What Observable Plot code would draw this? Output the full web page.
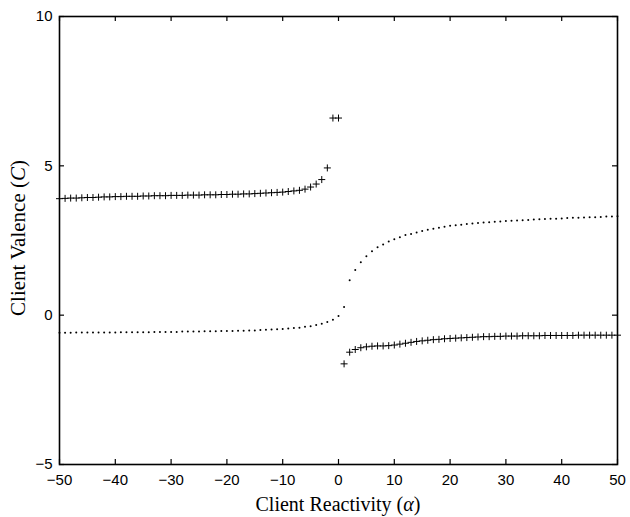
<!DOCTYPE html>
<html><head><meta charset="utf-8">
<script src="https://cdn.jsdelivr.net/npm/d3@7"></script>
<script src="https://cdn.jsdelivr.net/npm/@observablehq/plot@0.6"></script>
<style>body{margin:0;background:#fff} #chart svg{display:block}</style>
</head><body><div id="chart"></div>
<script>
const alpha = [-50,-49,-48,-47,-46,-45,-44,-43,-42,-41,-40,-39,-38,-37,-36,-35,-34,-33,-32,-31,-30,-29,-28,-27,-26,-25,-24,-23,-22,-21,-20,-19,-18,-17,-16,-15,-14,-13,-12,-11,-10,-9,-8,-7,-6,-5,-4,-3,-2,-1,0,1,2,3,4,5,6,7,8,9,10,11,12,13,14,15,16,17,18,19,20,21,22,23,24,25,26,27,28,29,30,31,32,33,34,35,36,37,38,39,40,41,42,43,44,45,46,47,48,49,50];
const dottedC = [
 -0.59,-0.59,-0.59,-0.58,-0.58,-0.58,-0.58,-0.58,-0.58,-0.58,
 -0.58,-0.57,-0.57,-0.57,-0.57,-0.57,-0.57,-0.56,-0.56,-0.56,
 -0.56,-0.56,-0.55,-0.55,-0.55,-0.55,-0.54,-0.54,-0.54,-0.53,
 -0.53,-0.53,-0.52,-0.52,-0.51,-0.51,-0.50,-0.49,-0.48,-0.47,
 -0.46,-0.45,-0.43,-0.42,-0.39,-0.37,-0.33,-0.29,-0.23,-0.15,
 -0.03,
 0.27,1.17,1.51,1.77,1.97,2.14,2.27,2.37,2.47,2.54,
 2.61,2.68,2.72,2.77,2.82,2.86,2.89,2.93,2.96,2.99,
 3.01,3.03,3.05,3.07,3.09,3.10,3.11,3.13,3.14,3.15,
 3.16,3.17,3.18,3.19,3.20,3.21,3.22,3.23,3.23,3.24,
 3.25,3.26,3.26,3.27,3.28,3.28,3.29,3.30,3.30,3.31];
const plusC = [
 3.90,3.91,3.92,3.92,3.93,3.94,3.94,3.95,3.96,3.96,
 3.97,3.97,3.98,3.98,3.98,3.99,3.99,4.00,4.00,4.00,
 4.01,4.01,4.01,4.02,4.02,4.02,4.03,4.03,4.03,4.04,
 4.04,4.05,4.05,4.06,4.06,4.07,4.08,4.09,4.10,4.11,
 4.12,4.14,4.16,4.18,4.22,4.29,4.39,4.54,4.93,6.60,
 6.60,
 -1.63,-1.24,-1.15,-1.09,-1.06,-1.04,-1.03,-1.03,-1.02,-1.00,
 -0.97,-0.94,-0.91,-0.88,-0.86,-0.84,-0.82,-0.81,-0.79,-0.78,
 -0.77,-0.76,-0.75,-0.74,-0.73,-0.72,-0.72,-0.71,-0.71,-0.70,
 -0.70,-0.70,-0.69,-0.69,-0.69,-0.69,-0.68,-0.68,-0.68,-0.68,
 -0.68,-0.68,-0.67,-0.67,-0.67,-0.67,-0.67,-0.67,-0.67,-0.67];
const xTicks = [-50,-40,-30,-20,-10,0,10,20,30,40,50];
const yTicks = [-5,0,5,10];
const xLabel = "Client Reactivity (";
const xLabelVar = "α";
const yLabel = "Client Valence (";
const yLabelVar = "C";

const W = 630, H = 517, ML = 59, MR = 13, MT = 16, MB = 53;
const innerW = W - ML - MR, innerH = H - MT - MB;
const TICK = 5;

const rows = alpha.map((a, i) => ({a, dot: dottedC[i], plus: plusC[i]}));
const plusSymbol = {draw(ctx, size) {
  const r = Math.sqrt(size / Math.PI);
  ctx.moveTo(-r, 0); ctx.lineTo(r, 0); ctx.moveTo(0, -r); ctx.lineTo(0, r);
}};
const tk = {stroke: "black", strokeWidth: 1.2};

const chart = Plot.plot({
  width: W, height: H,
  marginLeft: ML, marginRight: MR, marginTop: MT, marginBottom: MB,
  style: {fontFamily: "'Liberation Sans', Arial, sans-serif", fontSize: "15px", color: "black", background: "white"},
  x: {domain: [-50, 50]},
  y: {domain: [-5, 10]},
  marks: [
    // inward ticks on all four sides of the box (rules shortened with insets)
    Plot.ruleX(xTicks, {x: d => d, insetTop: innerH - TICK, ...tk}),
    Plot.ruleX(xTicks, {x: d => d, insetBottom: innerH - TICK, ...tk}),
    Plot.ruleY(yTicks, {y: d => d, insetRight: innerW - TICK, ...tk}),
    Plot.ruleY(yTicks, {y: d => d, insetLeft: innerW - TICK, ...tk}),
    Plot.dot(rows, {x: "a", y: "dot", r: 1, fill: "black", stroke: "none"}),
    Plot.dot(rows, {x: "a", y: "plus", symbol: plusSymbol, r: 3.5, stroke: "black", fill: "none", strokeWidth: 1}),
    // tick labels
    Plot.axisX(xTicks, {anchor: "bottom", tickSize: 0, tickPadding: 10, label: null}),
    Plot.axisY(yTicks, {anchor: "left", tickSize: 0, tickPadding: 7, label: null}),
    Plot.frame({stroke: "black", strokeWidth: 1.6})
  ]
});

const svg = d3.select(chart);
const xt = svg.append("text")
  .attr("x", 338).attr("y", 511)
  .attr("text-anchor", "middle")
  .style("font-family", "'Liberation Serif', 'Times New Roman', serif")
  .style("font-size", "20px").attr("fill", "black");
xt.append("tspan").text(xLabel);
xt.append("tspan").style("font-style", "italic").text(xLabelVar);
xt.append("tspan").text(")");
const yt = svg.append("text")
  .attr("transform", "translate(25,238) rotate(-90)")
  .attr("text-anchor", "middle")
  .style("font-family", "'Liberation Serif', 'Times New Roman', serif")
  .style("font-size", "21px").attr("fill", "black");
yt.append("tspan").text(yLabel);
yt.append("tspan").style("font-style", "italic").text(yLabelVar);
yt.append("tspan").text(")");

document.getElementById("chart").append(chart);
</script>
</body></html>
